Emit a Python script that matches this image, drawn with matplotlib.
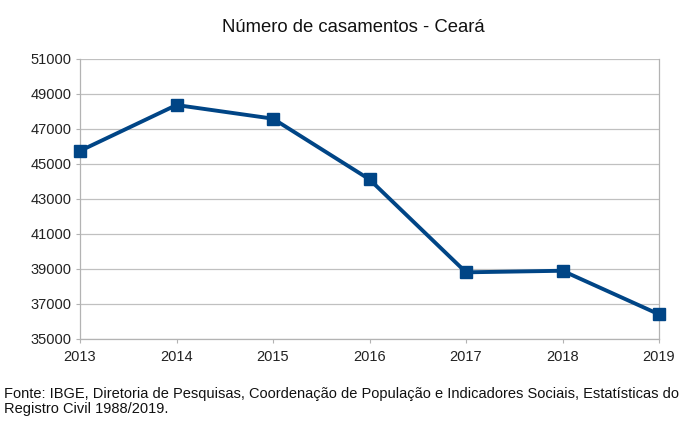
import matplotlib
matplotlib.use("Agg")
import matplotlib.pyplot as plt

years = [2013, 2014, 2015, 2016, 2017, 2018, 2019]
casamentos = [45750, 48370, 47590, 44120, 38810, 38900, 36410]
yticks = list(range(35000, 51001, 2000))

plt.rcParams['font.family'] = ['Liberation Sans', 'DejaVu Sans']

fig = plt.figure(figsize=(6.89, 4.29), dpi=100)
ax = fig.add_axes([80/689, 1-339/429, (659-80)/689, (339-59)/429])

color = '#004586'
ax.plot(years, casamentos, color=color, linewidth=2.8, marker='s', markersize=8,
        markerfacecolor=color, markeredgecolor=color, zorder=3, clip_on=False)

ax.set_xlim(years[0], years[-1])
ax.set_ylim(35000, 51000)
ax.set_yticks(yticks)
ax.set_xticks(years)
ax.set_yticklabels([str(v) for v in yticks], fontsize=10.5, color='#222222')
ax.set_xticklabels([str(y) for y in years], fontsize=10.5, color='#222222')
ax.grid(axis='y', color='#c0c0c0', linewidth=0.9)
ax.set_axisbelow(True)
for s in ['left', 'bottom', 'right']:
    ax.spines[s].set_color('#b3b3b3')
    ax.spines[s].set_linewidth(0.9)
ax.spines['top'].set_visible(False)
ax.tick_params(axis='both', length=3, color='#b3b3b3', pad=3)
ax.tick_params(axis='x', pad=5)

fig.text(353/689, 1-28/429, 'Número de casamentos - Ceará', ha='center', va='center',
         fontsize=13.3, color='#111111')
fig.text(4/689, 1-394/429, 'Fonte: IBGE, Diretoria de Pesquisas, Coordenação de População e Indicadores Sociais, Estatísticas do',
         ha='left', va='center', fontsize=10.5, color='#111111')
fig.text(4/689, 1-409/429, 'Registro Civil 1988/2019.',
         ha='left', va='center', fontsize=10.5, color='#111111')

fig.savefig('out.png', dpi=100, facecolor='white')
